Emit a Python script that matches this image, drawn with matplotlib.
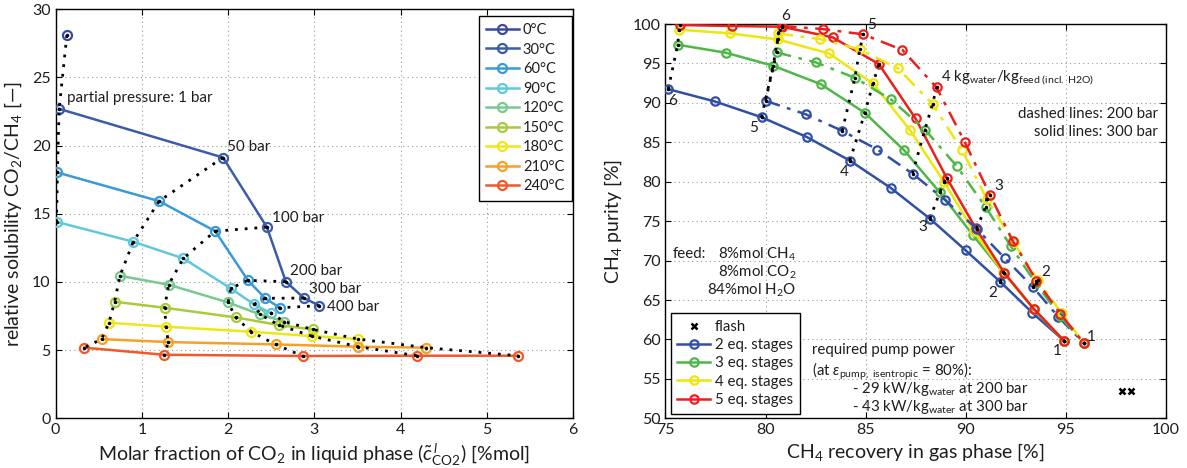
import matplotlib
matplotlib.use("Agg")
import matplotlib.pyplot as plt
import numpy as np

plt.rcParams['font.family'] = ['Lato', 'DejaVu Sans']
plt.rcParams['mathtext.fontset'] = 'custom'
plt.rcParams['mathtext.rm'] = 'Lato'
plt.rcParams['mathtext.it'] = 'Lato:italic'
plt.rcParams['mathtext.bf'] = 'Lato:bold'

TXT = '#1e1e1e'

# ---------------- Left chart data ----------------
temps = ['0°C', '30°C', '60°C', '90°C', '120°C', '150°C', '180°C', '210°C', '240°C']
temp_colors = ['#3a4a9f', '#3b5bab', '#3a9ad8', '#62c7dc', '#78c892', '#a8cb3e',
               '#efe617', '#f7a026', '#f05a2a']

p_0 = [1]
x_0 = [0.13]
y_0 = [28.1]
p_30 = [1, 50, 100, 200, 300, 400]
x_30 = [0.04, 1.94, 2.45, 2.67, 2.88, 3.06]
y_30 = [22.7, 19.13, 14.02, 10.02, 8.82, 8.26]
p_60 = [1, 50, 100, 200, 300, 400]
x_60 = [0.02, 1.20, 1.85, 2.23, 2.43, 2.60]
y_60 = [18.03, 15.93, 13.73, 10.12, 8.80, 8.11]
p_90 = [1, 50, 100, 200, 300, 400]
x_90 = [0.01, 0.90, 1.48, 2.03, 2.30, 2.50]
y_90 = [14.41, 12.95, 11.73, 9.53, 8.36, 7.70]
p_120 = [50, 100, 200, 300, 400]
x_120 = [0.745, 1.31, 2.00, 2.37, 2.65]
y_120 = [10.45, 9.80, 8.50, 7.62, 7.10]
p_150 = [50, 100, 200, 300, 400]
x_150 = [0.684, 1.264, 2.087, 2.589, 2.98]
y_150 = [8.55, 8.11, 7.40, 6.84, 6.52]
p_180 = [50, 100, 200, 300, 400]
x_180 = [0.618, 1.28, 2.27, 2.97, 3.51]
y_180 = [7.01, 6.72, 6.35, 6.03, 5.81]
p_210 = [50, 100, 200, 300, 400]
x_210 = [0.533, 1.306, 2.55, 3.51, 4.30]
y_210 = [5.81, 5.59, 5.42, 5.25, 5.18]
p_240 = [50, 100, 200, 300, 400]
x_240 = [0.332, 1.259, 2.864, 4.19, 5.36]
y_240 = [5.18, 4.66, 4.57, 4.59, 4.59]

left_series = [(p_0, x_0, y_0), (p_30, x_30, y_30), (p_60, x_60, y_60), (p_90, x_90, y_90),
               (p_120, x_120, y_120), (p_150, x_150, y_150), (p_180, x_180, y_180),
               (p_210, x_210, y_210), (p_240, x_240, y_240)]
isobars = [1, 50, 100, 200, 300, 400]
isobar_labels = ['partial pressure: 1 bar', '50 bar', '100 bar', '200 bar', '300 bar', '400 bar']
isobar_label_pos = [(0.13, 23.5), (1.99, 19.9), (2.51, 14.7), (2.72, 10.8), (2.94, 9.5), (3.15, 8.2)]

# ---------------- Right chart data ----------------
ratios = [6, 5.5, 5, 4.5, 4, 3.5, 3, 2.5, 2, 1.5, 1]
stages = ['2 eq. stages', '3 eq. stages', '4 eq. stages', '5 eq. stages']
stage_colors = ['#3050a8', '#4fb747', '#efe50f', '#e8211d']

rec_300_2 = [75.14, 77.47, 79.80, 82.05, 84.21, 86.26, 88.21, 90.00, 91.73, 93.33, 94.90]
pur_300_2 = [91.74, 90.18, 88.18, 85.68, 82.68, 79.20, 75.31, 71.28, 67.30, 63.37, 59.85]
rec_300_3 = [75.61, 78.02, 80.38, 82.75, 84.96, 86.92, 88.70, 90.37, 91.90, 93.41, 94.90]
pur_300_3 = [97.37, 96.36, 94.70, 92.38, 88.73, 83.99, 78.65, 73.19, 68.40, 63.80, 59.85]
rec_300_4 = [75.69, 78.22, 80.60, 83.15, 85.37, 87.20, 88.92, 90.40, 91.88, 93.40, 94.90]
pur_300_4 = [99.28, 98.81, 98.05, 96.28, 92.46, 86.60, 79.96, 73.70, 68.50, 63.85, 59.85]
rec_300_5 = [75.72, 78.30, 80.80, 83.35, 85.66, 87.49, 89.04, 90.50, 91.92, 93.40, 94.90]
pur_300_5 = [99.87, 99.75, 99.66, 98.31, 94.92, 88.02, 80.52, 74.10, 68.45, 63.87, 59.85]

rec_200_2 = [80.00, 82.00, 83.83, 85.59, 87.34, 88.95, 90.54, 91.95, 93.36, 94.61, 95.91]
pur_200_2 = [90.26, 88.56, 86.45, 84.08, 81.03, 77.72, 74.04, 70.30, 66.63, 62.90, 59.50]
rec_200_3 = [80.55, 82.51, 84.46, 86.26, 87.96, 89.54, 90.99, 92.25, 93.50, 94.70, 95.90]
pur_200_3 = [96.40, 95.13, 93.18, 90.43, 86.62, 82.00, 76.80, 71.83, 67.10, 63.00, 59.50]
rec_200_4 = [80.63, 82.71, 84.71, 86.62, 88.34, 89.82, 91.04, 92.40, 93.60, 94.80, 95.90]
pur_200_4 = [98.80, 98.09, 96.78, 94.37, 89.83, 83.99, 77.85, 72.30, 67.50, 63.30, 59.50]
rec_200_5 = [80.80, 82.85, 84.88, 86.84, 88.54, 89.95, 91.20, 92.36, 93.53, 94.73, 95.91]
pur_200_5 = [99.75, 99.36, 98.69, 96.70, 91.95, 85.04, 78.36, 72.43, 67.47, 63.24, 59.50]

flash_rec = [97.78, 98.24]
flash_pur = [53.5, 53.4]

ratio_lines = [6, 5, 4, 3, 2, 1]
ratio_labels_300 = ['6', '5', '4', '3', '2', '1']
ratio_label_pos_300 = [(75.36, 90.2), (79.38, 86.8), (83.91, 81.2), (87.87, 74.25), (91.33, 65.85), (94.56, 58.5)]
ratio_labels_200 = ['6', '5', '', '3', '2', '1']
ratio_label_pos_200 = [(81.02, 101.05), (85.29, 99.9), (0, 0), (91.65, 79.5), (94.0, 68.5), (96.28, 60.35)]

# ---------------- Figure ----------------
fig = plt.figure(figsize=(11.87, 4.68), dpi=100)
ax1 = fig.add_axes([0.0469, 0.1062, 0.4358, 0.8739])
ax2 = fig.add_axes([0.5606, 0.1062, 0.4217, 0.8425])

def style_axes(ax):
    ax.grid(True, linestyle=(0, (1, 3)), color='#999999', linewidth=0.8)
    ax.tick_params(direction='in', top=True, right=True, labelsize=11.5, length=4, width=0.8,
                   labelcolor=TXT)
    for s in ax.spines.values():
        s.set_linewidth(1.0)
        s.set_color('black')
    ax.set_axisbelow(True)

# Left: isobar dotted lines
for pr in isobars:
    xs, ys = [], []
    for (ps, xv, yv) in left_series:
        if pr in ps:
            i = ps.index(pr)
            xs.append(xv[i]); ys.append(yv[i])
    ax1.plot(xs, ys, linestyle=(0, (1, 2.5)), color='black', linewidth=2.0, marker='.',
             markersize=3, zorder=4)

for (ps, xv, yv), lab, col in zip(left_series, temps, temp_colors):
    ax1.plot(xv, yv, '-o', color=col, linewidth=1.8, markersize=6.5, markerfacecolor='none',
             markeredgewidth=1.6, label=lab, zorder=3)

for lab, (lx, ly) in zip(isobar_labels, isobar_label_pos):
    ax1.text(lx, ly, lab, fontsize=11, ha='left', va='center', color=TXT, zorder=6)

ax1.set_xlim(0, 6)
ax1.set_ylim(0, 30)
ax1.set_xticks(range(0, 7))
ax1.set_yticks(range(0, 31, 5))
style_axes(ax1)
ax1.set_xlabel(r'Molar fraction of CO$_2$ in liquid phase ($\tilde{c}^{\,l}_{\mathrm{CO2}}$) [%mol]',
               fontsize=14, color=TXT, labelpad=3)
ax1.set_ylabel('relative solubility CO$_2$/CH$_4$ [\u2014]', fontsize=14, color=TXT, labelpad=6)
leg1 = ax1.legend(loc='upper right', bbox_to_anchor=(0.9975, 0.9844), borderaxespad=0,
                  fontsize=10.5, fancybox=False, edgecolor='black', framealpha=1,
                  handlelength=2.2, labelspacing=0.38, handletextpad=0.3, borderpad=0.5)
leg1.get_frame().set_linewidth(1.0)
for t in leg1.get_texts():
    t.set_color(TXT)

# Right chart
rec_300 = [rec_300_2, rec_300_3, rec_300_4, rec_300_5]
pur_300 = [pur_300_2, pur_300_3, pur_300_4, pur_300_5]
rec_200 = [rec_200_2, rec_200_3, rec_200_4, rec_200_5]
pur_200 = [pur_200_2, pur_200_3, pur_200_4, pur_200_5]

ax2.plot(flash_rec, flash_pur, linestyle='none', marker='x', color='black', markersize=5,
         markeredgewidth=1.8, label='flash', zorder=5)

for rc, pu, col, lab in zip(rec_300, pur_300, stage_colors, stages):
    ax2.plot(rc, pu, '-o', color=col, linewidth=1.8, markersize=6, markerfacecolor='none',
             markeredgewidth=1.6, label=lab, zorder=3)
for rc, pu, col in zip(rec_200, pur_200, stage_colors):
    ax2.plot(rc, pu, linestyle=(0, (6, 3, 1.5, 3)), marker='o', color=col, linewidth=1.8,
             markersize=6, markerfacecolor='none', markeredgewidth=1.6, zorder=3)

for group_r, group_p in ((rec_300, pur_300), (rec_200, pur_200)):
    for rt in ratio_lines:
        i = ratios.index(rt)
        xs = [r[i] for r in group_r]
        ys = [p[i] for p in group_p]
        ax2.plot(xs, ys, linestyle=(0, (1, 2.5)), color='black', linewidth=2.0, marker='.',
                 markersize=3, zorder=4)

for lab, (lx, ly) in zip(ratio_labels_300, ratio_label_pos_300):
    ax2.text(lx, ly, lab, fontsize=11, ha='center', va='center', color=TXT, zorder=6)
for lab, (lx, ly) in zip(ratio_labels_200, ratio_label_pos_200):
    if lab:
        ax2.text(lx, ly, lab, fontsize=11, ha='center', va='center', color=TXT,
                 zorder=6, clip_on=False)

FS = 10.8
ax2.text(88.75, 93.2, r'4 kg$_{\mathrm{water}}$/kg$_{\mathrm{feed\ (incl.\ H2O)}}$', fontsize=FS,
         ha='left', va='center', color=TXT)
ax2.text(99.6, 88.65, 'dashed lines: 200 bar', fontsize=FS, ha='right', va='center', color=TXT)
ax2.text(99.6, 86.3, 'solid lines: 300 bar', fontsize=FS, ha='right', va='center', color=TXT)

ax2.text(75.35, 70.86, 'feed:', fontsize=FS, ha='left', va='center', color=TXT)
ax2.text(81.55, 70.86, r'8%mol CH$_4$', fontsize=FS, ha='right', va='center', color=TXT)
ax2.text(81.55, 68.55, r'8%mol CO$_2$', fontsize=FS, ha='right', va='center', color=TXT)
ax2.text(81.55, 66.2, r'84%mol H$_2$O', fontsize=FS, ha='right', va='center', color=TXT)

ax2.text(82.3, 58.6, 'required pump power', fontsize=FS, ha='left', va='center', color=TXT)
ax2.text(82.3, 56.0, r'(at $\varepsilon_{\mathrm{pump,\ isentropic}}$ = 80%):', fontsize=FS,
         ha='left', va='center', color=TXT)
ax2.text(84.3, 53.7, r'- 29 kW/kg$_{\mathrm{water}}$ at 200 bar', fontsize=FS, ha='left',
         va='center', color=TXT)
ax2.text(84.3, 51.4, r'- 43 kW/kg$_{\mathrm{water}}$ at 300 bar', fontsize=FS, ha='left',
         va='center', color=TXT)

ax2.set_xlim(75, 100)
ax2.set_ylim(50, 100)
ax2.set_xticks(range(75, 101, 5))
ax2.set_yticks(range(50, 101, 5))
style_axes(ax2)
ax2.set_xlabel(r'CH$_4$ recovery in gas phase [%]', fontsize=14, color=TXT, labelpad=3)
ax2.set_ylabel(r'CH$_4$ purity [%]', fontsize=14, color=TXT, labelpad=6)
leg2 = ax2.legend(loc='lower left', bbox_to_anchor=(0.0106, 0.012), borderaxespad=0,
                  fontsize=10.8, fancybox=False, edgecolor='black', framealpha=1,
                  handlelength=2.2, labelspacing=0.28, handletextpad=0.3, borderpad=0.45)
leg2.get_frame().set_linewidth(1.0)
for t in leg2.get_texts():
    t.set_color(TXT)

fig.savefig('out.png', dpi=100)
